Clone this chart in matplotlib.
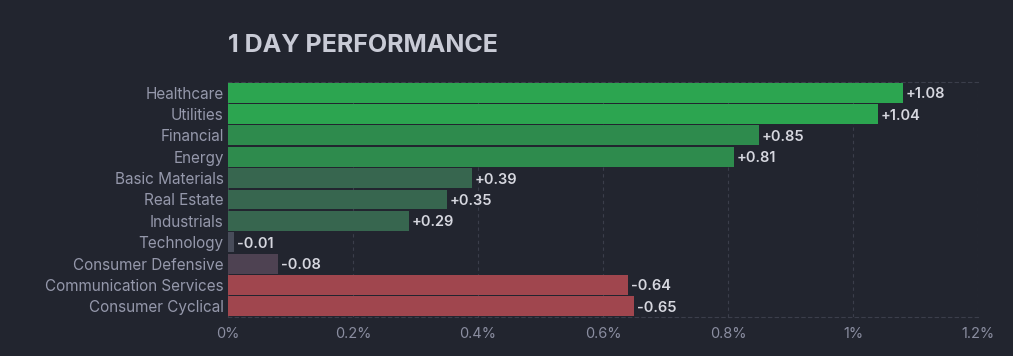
import matplotlib
matplotlib.use("Agg")
import matplotlib.pyplot as plt
import numpy as np

sectors = ["Healthcare", "Utilities", "Financial", "Energy", "Basic Materials",
           "Real Estate", "Industrials", "Technology", "Consumer Defensive",
           "Communication Services", "Consumer Cyclical"]
change = [1.08, 1.04, 0.85, 0.81, 0.39, 0.35, 0.29, -0.01, -0.08, -0.64, -0.65]
bar_colors = ["#2ca550", "#2ca550", "#2e8b4d", "#2e8b4d", "#37664f", "#37664f",
              "#37664f", "#484c5a", "#4e4252", "#a0464e", "#a0464e"]
xticks = [0, 0.2, 0.4, 0.6, 0.8, 1.0, 1.2]
xtick_labels = ["0%", "0.2%", "0.4%", "0.6%", "0.8%", "1%", "1.2%"]

bg = "#22252f"
plt.rcParams["font.family"] = ["Inter", "DejaVu Sans"]

fig = plt.figure(figsize=(10.13, 3.56), dpi=100, facecolor=bg)
ax = fig.add_axes([228/1013, 39/356, 750/1013, 235/356], facecolor=bg)

y = np.arange(len(sectors))
vals = np.abs(change)
ax.barh(y, vals, height=0.93, color=bar_colors, edgecolor="none", zorder=3)

# value labels to the right of each bar
for yi, v, c in zip(y, vals, change):
    ax.text(v + 0.004, yi, f"{c:+.2f}", va="center_baseline", ha="left",
            color="#d6d7df", fontsize=10.5, fontweight="semibold", zorder=4)

ax.set_xlim(0, 1.2)
ax.set_ylim(len(sectors) - 0.5, -0.5)
ax.set_yticks(y)
ax.set_yticklabels(sectors, va="center_baseline")
ax.set_xticks(xticks)
ax.set_xticklabels(xtick_labels)
ax.tick_params(axis="y", length=0, pad=3, colors="#9598ab", labelsize=11)
ax.tick_params(axis="x", length=0, pad=7, colors="#8a8da0", labelsize=10.5)

ax.grid(axis="x", color="#3b3e4b", linestyle=(0, (3, 3)), linewidth=0.8, zorder=0)
for s in ["left", "right"]:
    ax.spines[s].set_visible(False)
for s in ["top", "bottom"]:
    ax.spines[s].set_color("#3b3e4b")
    ax.spines[s].set_linestyle((0, (3, 3)))
    ax.spines[s].set_linewidth(0.8)

fig.text(228/1013, 1 - 45/356, "1 DAY PERFORMANCE", color="#c9cbd6",
         fontsize=18, fontweight="bold", va="center", ha="left")

fig.savefig("out.png", dpi=100, facecolor=bg)
